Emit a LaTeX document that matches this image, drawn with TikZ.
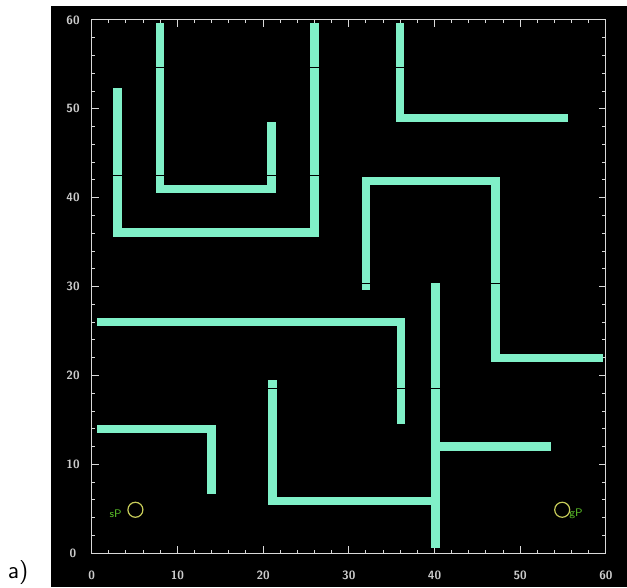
\documentclass[tikz,border=0pt]{standalone}
\usepackage{tikz}

\definecolor{wallcol}{RGB}{128,240,200}
\definecolor{ringcol}{RGB}{200,205,90}
\definecolor{tagcol}{RGB}{90,190,40}
\tikzset{
  wallseg/.style={draw=wallcol,line width=4.2pt,line cap=rect,line join=miter},
  joint/.style={draw=black,line width=.5pt},
  axisline/.style={draw=white!85!black,line width=.5pt},
  ticklabel/.style={text=white!80!black,inner sep=0pt,font=\sffamily\bfseries\fontsize{6}{7}\selectfont},
  ring/.style={draw=ringcol,line width=.6pt,circle,minimum size=7.5pt,inner sep=0pt},
  postag/.style={text=tagcol,inner sep=0pt,font=\sffamily\fontsize{5.5}{6}\selectfont}
}

\begin{document}
\begin{tikzpicture}[x=4.285pt,y=4.445pt,line width=.35pt]
\useasboundingbox (-10.70,-3.79) rectangle (62.46,62.24);
\fill[black] (-4.75,-3.79) rectangle (62.46,61.57);
% axes box and ticks
\draw[axisline] (0,0) rectangle (60,60);
\foreach \t in {0,2,...,60}
  \draw[axisline] (\t,0)--(\t,.4) (\t,60)--(\t,59.6) (0,\t)--(.4,\t) (60,\t)--(59.6,\t);
\foreach \t in {0,10,...,60}
  \draw[axisline] (\t,0)--(\t,.8) (\t,60)--(\t,59.2) (0,\t)--(.8,\t) (60,\t)--(59.2,\t);
\foreach \t in {0,10,...,60} {
  \node[ticklabel] (xl\t) at (\t,-2.44) {\t};
  \node[ticklabel] (yl\t) at (-2.18,\t) {\t};
}
% walls
\draw[wallseg] (3,51.9)--(3,36.1)--(26,36.1)--(26,59.2);
\draw[wallseg] (8,59.2)--(8,41)--(21,41)--(21,48);
\draw[wallseg] (36,59.2)--(36,49)--(55.1,49);
\draw[wallseg] (32,30.1)--(32,41.9)--(47.1,41.9)--(47.1,22)--(59.2,22);
\draw[wallseg] (1.1,26)--(36.1,26)--(36.1,15);
\draw[wallseg] (40.1,1.1)--(40.1,29.9);
\draw[wallseg] (40.1,12)--(53.1,12);
\draw[wallseg] (21.1,19)--(21.1,5.9)--(40.1,5.9);
\draw[wallseg] (1.1,14)--(14,14)--(14,7.1);
% segment joints
\draw[joint] (2.5,42.5)--(3.5,42.5) (7.5,42.5)--(8.5,42.5) (20.5,42.5)--(21.5,42.5) (25.5,42.5)--(26.5,42.5);
\draw[joint] (7.5,54.6)--(8.5,54.6) (25.5,54.6)--(26.5,54.6) (35.5,54.6)--(36.5,54.6);
\draw[joint] (31.5,30.4)--(32.5,30.4) (46.6,30.4)--(47.6,30.4);
\draw[joint] (20.6,18.5)--(21.6,18.5) (35.6,18.5)--(36.6,18.5) (39.6,18.5)--(40.6,18.5);
% start and goal
\node[ring] (start) at (5.1,4.9) {};
\node[postag] (starttag) at (2.8,4.4) {sP};
\node[ring] (goal) at (54.9,4.9) {};
\node[postag] (goaltag) at (56.5,4.4) {gP};
\node[font=\sffamily\fontsize{12}{13}\selectfont,inner sep=0pt] (fig) at (-8.6,-2.2) {a)};
\end{tikzpicture}
\end{document}
